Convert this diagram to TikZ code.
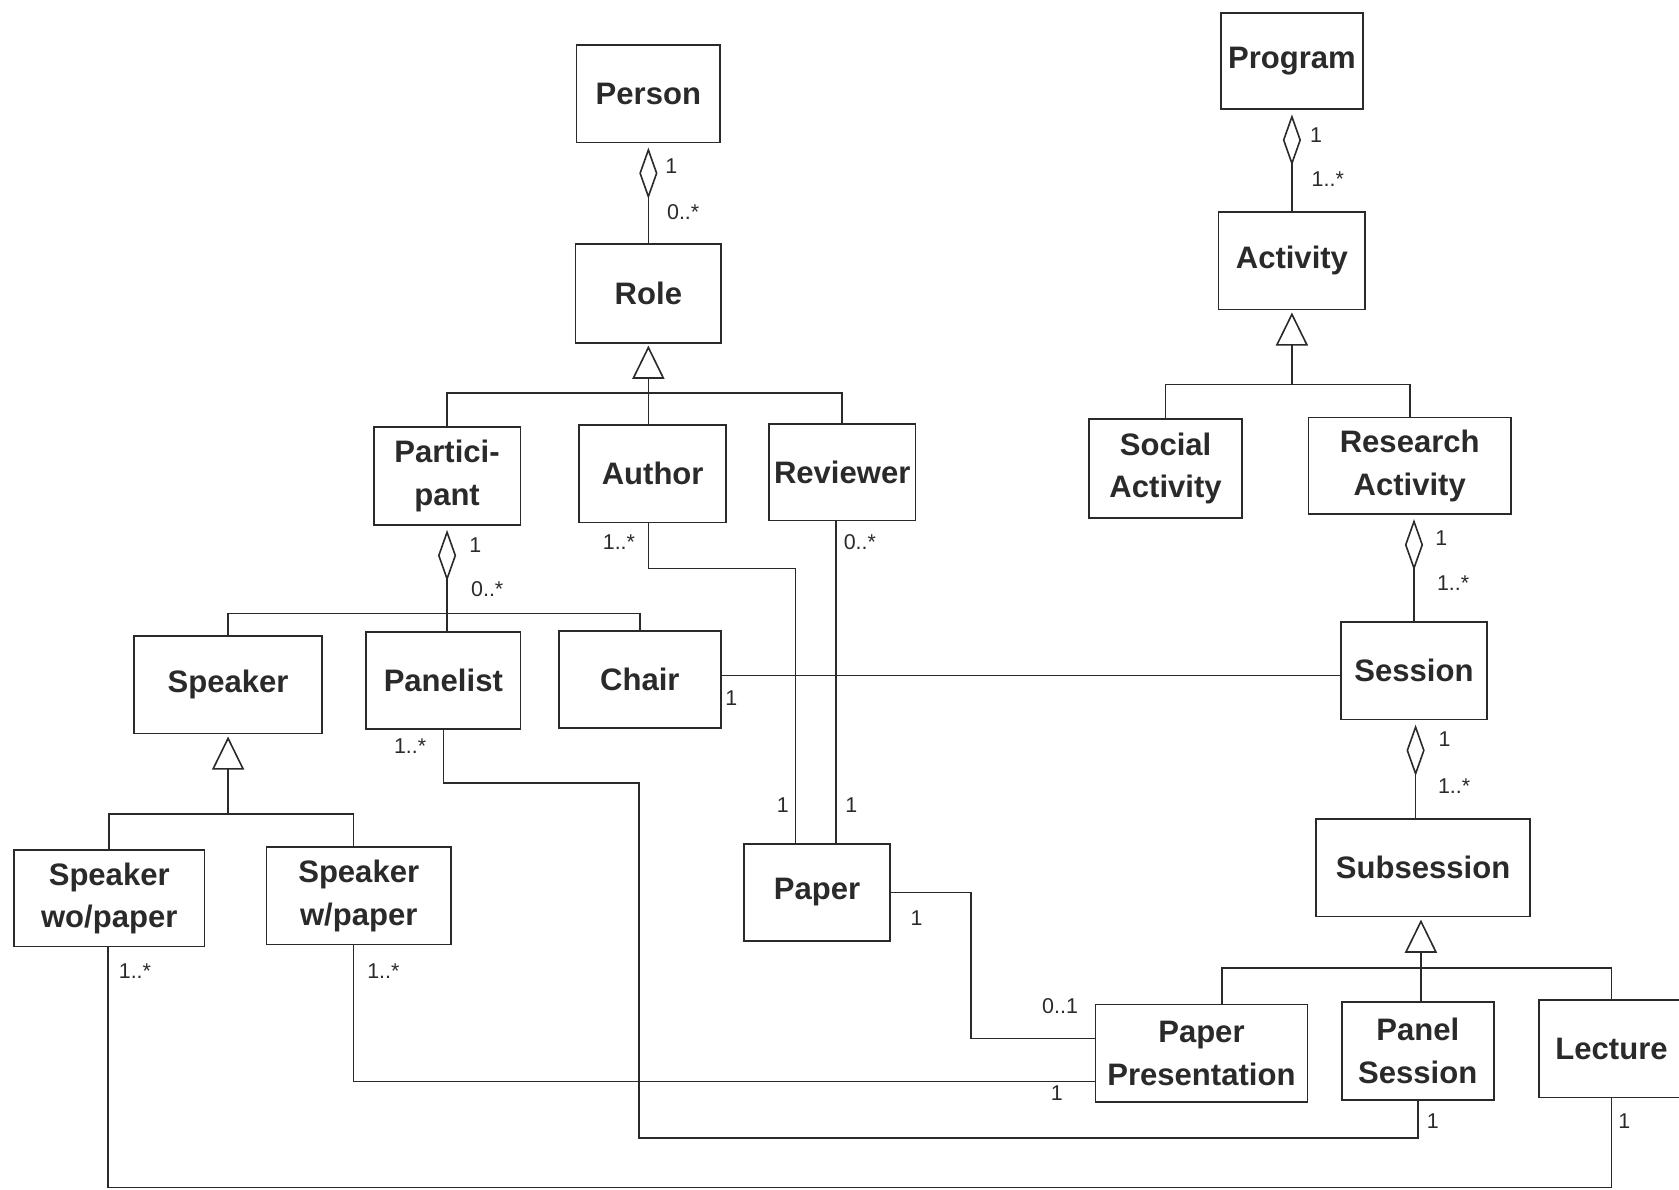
\documentclass[tikz,border=0pt]{standalone}
\usepackage{fontspec}
\setmainfont{Liberation Sans}
\usetikzlibrary{arrows.meta}
\definecolor{ink}{HTML}{2A2A2A}
\begin{document}
\begin{tikzpicture}[x=0.5pt,y=-0.5pt,
  box/.style={draw=ink, line width=0.8pt, rectangle, inner sep=0pt, align=center,
    font=\fontsize{14.5}{20}\selectfont\bfseries, text=ink},
  conn/.style={draw=ink, line width=0.75pt},
  agg/.style={conn, -{Diamond[open, length=24pt, width=8.5pt, line width=0.75pt]}, shorten >=2pt},
  gen/.style={conn, -{Triangle[open, length=15.5pt, width=15pt, line width=0.75pt]}, shorten >=1pt},
  mult/.style={font=\fontsize{10}{12}\selectfont, text=ink, inner sep=0pt}
]
\useasboundingbox (0,0) rectangle (1568,1111);

% ---- boxes
\node[box, minimum width=67pt,   minimum height=45.5pt] (person)     at (605.5,87.5)  {Person};
\node[box, minimum width=68pt,   minimum height=46pt]   (role)       at (605.5,274)   {Role};
\node[box, minimum width=68.5pt, minimum height=45.5pt] (participant) at (417.5,444.5) {Partici-\\pant};
\node[box, minimum width=68.5pt, minimum height=45.5pt] (author)     at (609.5,442.5) {Author};
\node[box, minimum width=68.5pt, minimum height=45pt]   (reviewer)   at (786.5,441)   {Reviewer};
\node[box, minimum width=88pt,   minimum height=45.5pt] (speaker)    at (213,639.5)   {Speaker};
\node[box, minimum width=72pt,   minimum height=45.5pt] (panelist)   at (414,635.5)   {Panelist};
\node[box, minimum width=75.5pt, minimum height=45.5pt] (chair)      at (597.5,634.5) {Chair};
\node[box, minimum width=89pt,   minimum height=45pt]   (swo)        at (102,839)     {Speaker\\wo/paper};
\node[box, minimum width=86pt,   minimum height=45.5pt] (swp)        at (335,836.5)   {Speaker\\w/paper};
\node[box, minimum width=68pt,   minimum height=45.5pt] (paper)      at (763,833.5)   {Paper};
\node[box, minimum width=66.5pt, minimum height=45pt]   (program)    at (1206.5,57)   {Program};
\node[box, minimum width=68.5pt, minimum height=45.5pt] (activity)   at (1206.5,243.5) {Activity};
\node[box, minimum width=71.5pt, minimum height=46.5pt] (social)     at (1088.5,437.5) {Social\\Activity};
\node[box, minimum width=94.5pt, minimum height=45pt]   (research)   at (1316.5,435)  {Research\\Activity};
\node[box, minimum width=68.5pt, minimum height=45.5pt] (session)    at (1320.5,626.5) {Session};
\node[box, minimum width=100pt,  minimum height=45.5pt] (subsession) at (1329,810.5)  {Subsession};
\node[box, minimum width=99pt,   minimum height=45.5pt] (pp)         at (1122,983.5)  {Paper\\Presentation};
\node[box, minimum width=71pt,   minimum height=45.5pt] (ps)         at (1324,981.5)  {Panel\\Session};
\node[box, minimum width=68pt,   minimum height=45.5pt] (lecture)    at (1505,979.5)  {Lecture};

% ---- helper coordinates
\coordinate (rb)   at (605.5,367);
\coordinate (ab)   at (1206.5,359);
\coordinate (pb)   at (418,573);
\coordinate (sb)   at (213,760);
\coordinate (sbr)  at (330,760);
\coordinate (ssb)  at (1327,904);
\coordinate (ssl)  at (1141,904);
\coordinate (chs)  at (0,631);
\coordinate (apb)  at (743,531);
\coordinate (revx) at (781,0);
\coordinate (ppb)  at (907,970);
\coordinate (swpx) at (330,1010);
\coordinate (pn1)  at (597,731);
\coordinate (pn2)  at (597,1063);
\coordinate (lec)  at (101,1109);

% ---- aggregations
\draw[agg] (role.north) -- (person.south);
\draw[agg] (activity.north) -- (program.south);
\draw[agg] (session.north) -- (session.north |- research.south);
\draw[agg] (subsession.north -| 1322,0) -- (session.south -| 1322,0);
\draw[agg] (panelist.north -| participant.south) -- (participant.south);
\draw[conn] (speaker.north) |- (pb) -| (chair.north);

% ---- generalizations
\draw[gen] (rb) -- (role.south);
\draw[conn] (participant.north) |- (rb) -| (reviewer.north);
\draw[conn] (rb) -- (rb |- author.north);

\draw[gen] (ab) -- (activity.south);
\draw[conn] (social.north) |- (ab) -| (research.north);

\draw[gen] (sb) -- (speaker.south -| sb);
\draw[conn] (swo.north) |- (sb) -- (sbr) -- (sbr |- swp.north);

\draw[gen] (ps.north -| ssb) -- (subsession.south -| ssb);
\draw[conn] (ssl |- pp.north) -- (ssl) -- (ssb -| lecture.north) -- (lecture.north);

% ---- associations
\draw[conn] (chair.east |- chs) -- (session.west |- chs);
\draw[conn] (author.south -| rb) |- (apb) -- (apb |- paper.north);
\draw[conn] (reviewer.south -| revx) -- (paper.north -| revx);
\draw[conn] (paper.east) -| (ppb) -- (ppb -| pp.west);
\draw[conn] (swp.south -| swpx) -- (swpx) -- (swpx -| pp.west);
\draw[conn] (panelist.south) |- (pn1) -- (pn2) -| (ps.south);
\draw[conn] (swo.south -| lec) -- (lec) -| (lecture.south);

% ---- multiplicities
\node[mult] (m1)  at (627,155)  {1};
\node[mult] (m2)  at (638,198)  {0..*};
\node[mult] (m3)  at (444,509)  {1};
\node[mult] (m4)  at (455,550)  {0..*};
\node[mult] (m5)  at (578,506)  {1..*};
\node[mult] (m6)  at (803,506)  {0..*};
\node[mult] (m7)  at (731,752)  {1};
\node[mult] (m8)  at (795,752)  {1};
\node[mult] (m9)  at (683,652)  {1};
\node[mult] (m10) at (383,697)  {1..*};
\node[mult] (m11) at (126,907)  {1..*};
\node[mult] (m12) at (358,907)  {1..*};
\node[mult] (m13) at (856,857)  {1};
\node[mult] (m14) at (990,940)  {0..1};
\node[mult] (m15) at (987,1021) {1};
\node[mult] (m16) at (1338,1047) {1};
\node[mult] (m17) at (1517,1047) {1};
\node[mult] (m18) at (1229,126) {1};
\node[mult] (m19) at (1240,167) {1..*};
\node[mult] (m20) at (1346,503) {1};
\node[mult] (m21) at (1357,545) {1..*};
\node[mult] (m22) at (1349,690) {1};
\node[mult] (m23) at (1358,734) {1..*};
\end{tikzpicture}
\end{document}
